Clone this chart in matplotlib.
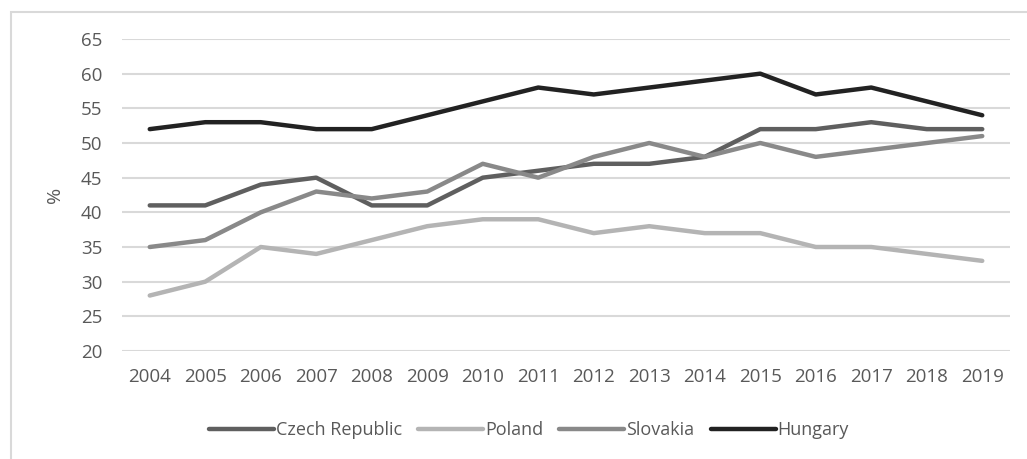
import matplotlib
matplotlib.use("Agg")
import matplotlib.pyplot as plt
from matplotlib.patches import Rectangle

years = ["2004", "2005", "2006", "2007", "2008", "2009", "2010", "2011",
         "2012", "2013", "2014", "2015", "2016", "2017", "2018", "2019"]
czech = [41, 41, 44, 45, 41, 41, 45, 46, 47, 47, 48, 52, 52, 53, 52, 52]
poland = [28, 30, 35, 34, 36, 38, 39, 39, 37, 38, 37, 37, 35, 35, 34, 33]
slovakia = [35, 36, 40, 43, 42, 43, 47, 45, 48, 50, 48, 50, 48, 49, 50, 51]
hungary = [52, 53, 53, 52, 52, 54, 56, 58, 57, 58, 59, 60, 57, 58, 56, 54]
yticks = [20, 25, 30, 35, 40, 45, 50, 55, 60, 65]

plt.rcParams['font.family'] = ['Open Sans', 'DejaVu Sans']

fig = plt.figure(figsize=(10.27, 4.59), dpi=100)
# chart border (cut off on right and bottom)
fig.patches.append(Rectangle((11 / 1027, -0.1), 1.2, 0.1 + 1 - 12 / 459,
                             transform=fig.transFigure, fill=False,
                             edgecolor='#d9d9d9', linewidth=1.5))

ax = fig.add_axes([122 / 1027, 1 - 351 / 459, 888 / 1027, (351 - 39) / 459])
x = range(len(years))
series = [("Czech Republic", czech, '#5f5f5f'),
          ("Poland", poland, '#b4b4b4'),
          ("Slovakia", slovakia, '#898989'),
          ("Hungary", hungary, '#222222')]
for name, vals, col in series:
    ax.plot(x, vals, color=col, linewidth=3.2, label=name, solid_capstyle='round')

ax.set_xlim(-0.5, len(years) - 0.5)
ax.set_ylim(20, 65)
ax.set_yticks(yticks)
ax.set_xticks(list(x))
ax.set_xticklabels(years)
ax.grid(axis='y', color='#d9d9d9', linewidth=1.5)
ax.set_axisbelow(True)
for s in ax.spines.values():
    s.set_visible(False)
ax.tick_params(length=0, labelsize=13.5, labelcolor='#595959')
ax.tick_params(axis='y', pad=14)
ax.tick_params(axis='x', pad=12)
ax.set_ylabel('%', fontsize=14, color='#595959', labelpad=12)

fig.legend(loc='center', bbox_to_anchor=(0.515, 1 - 430 / 459), ncol=4,
           frameon=False, fontsize=13, handlelength=3.6, handletextpad=0.1,
           columnspacing=0.9, labelcolor='#595959')

fig.savefig('out.png', dpi=100)
